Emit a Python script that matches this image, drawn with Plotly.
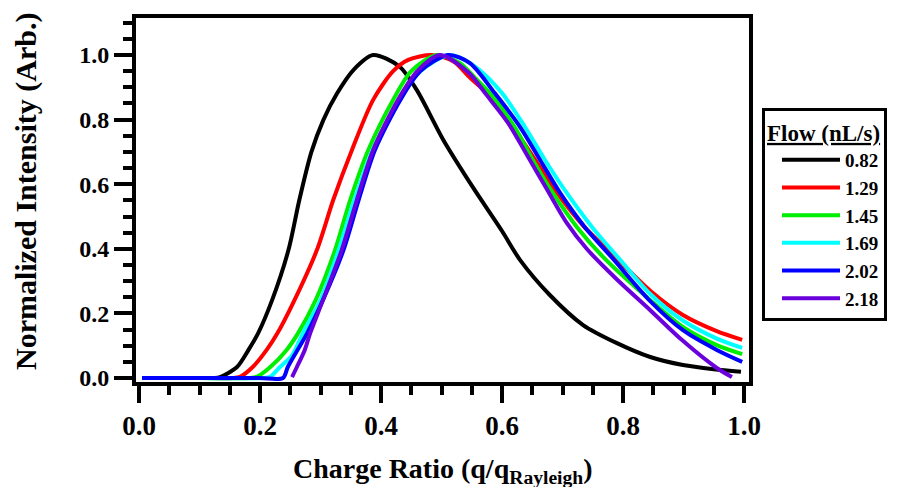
import plotly.graph_objects as go

# Flow rates (nL/s) and series data
flows = ["0.82", "1.29", "1.45", "1.69", "2.02", "2.18"]
colors = ["#000000", "#FF0000", "#00EE00", "#00FFFF", "#0000FF", "#6A00DC"]

x_082 = [0.005, 0.10, 0.125, 0.134, 0.162, 0.181, 0.197, 0.220, 0.247, 0.265, 0.285, 0.305, 0.327, 0.355, 0.387,
         0.43, 0.459, 0.503, 0.552, 0.60, 0.63, 0.679, 0.734, 0.790, 0.845, 0.899, 0.95, 0.995]
y_082 = [0, 0, 0, 0.003, 0.034, 0.087, 0.139, 0.241, 0.396, 0.551, 0.70, 0.80, 0.88, 0.955, 1.0,
         0.965, 0.892, 0.737, 0.59, 0.455, 0.365, 0.257, 0.164, 0.108, 0.065, 0.04, 0.027, 0.019]

x_129 = [0.005, 0.10, 0.155, 0.167, 0.188, 0.211, 0.229, 0.257, 0.294, 0.321, 0.352, 0.387, 0.42, 0.445,
         0.484, 0.52, 0.547, 0.575, 0.618, 0.655, 0.691, 0.734, 0.787, 0.845, 0.899, 0.955, 0.997]
y_129 = [0, 0, 0, 0.004, 0.034, 0.087, 0.139, 0.241, 0.396, 0.551, 0.706, 0.861, 0.95, 0.985,
         1.0, 0.98, 0.93, 0.882, 0.777, 0.675, 0.573, 0.472, 0.375, 0.27, 0.195, 0.145, 0.118]

x_145 = [0.005, 0.10, 0.183, 0.195, 0.217, 0.244, 0.263, 0.292, 0.324, 0.349, 0.379, 0.42, 0.45, 0.492,
         0.53, 0.555, 0.58, 0.621, 0.651, 0.684, 0.724, 0.767, 0.845, 0.899, 0.955, 0.997]
y_145 = [0, 0, 0, 0.004, 0.034, 0.087, 0.139, 0.241, 0.396, 0.551, 0.706, 0.861, 0.95, 1.0,
         0.975, 0.93, 0.882, 0.777, 0.675, 0.573, 0.467, 0.375, 0.241, 0.158, 0.102, 0.074]

x_169 = [0.005, 0.10, 0.205, 0.217, 0.233, 0.253, 0.271, 0.300, 0.33, 0.356, 0.386, 0.43, 0.465, 0.514,
         0.555, 0.60, 0.638, 0.671, 0.707, 0.749, 0.798, 0.845, 0.899, 0.955, 0.997]
y_169 = [0, 0, 0, 0.004, 0.034, 0.07, 0.139, 0.241, 0.396, 0.551, 0.706, 0.861, 0.95, 1.0,
         0.965, 0.882, 0.777, 0.675, 0.573, 0.467, 0.36, 0.26, 0.178, 0.122, 0.093]

x_202 = [0.005, 0.10, 0.20, 0.238, 0.246, 0.278, 0.304, 0.338, 0.363, 0.39, 0.432, 0.465, 0.511, 0.547,
         0.588, 0.630, 0.663, 0.696, 0.737, 0.783, 0.845, 0.899, 0.955, 0.997]
y_202 = [0, 0, 0, 0, 0.034, 0.139, 0.241, 0.396, 0.551, 0.706, 0.861, 0.95, 1.0, 0.975,
         0.882, 0.777, 0.675, 0.573, 0.467, 0.37, 0.238, 0.148, 0.087, 0.05]

x_218 = [0.253, 0.261, 0.274, 0.283, 0.304, 0.335, 0.360, 0.387, 0.428, 0.46, 0.497, 0.545,
         0.575, 0.61, 0.643, 0.674, 0.707, 0.740, 0.790, 0.845, 0.899, 0.955, 0.98]
y_218 = [0.003, 0.034, 0.087, 0.139, 0.241, 0.396, 0.551, 0.706, 0.861, 0.95, 1.0, 0.945,
         0.875, 0.79, 0.685, 0.585, 0.48, 0.40, 0.305, 0.21, 0.115, 0.031, 0.003]

xs = [x_082, x_129, x_145, x_169, x_202, x_218]
ys = [y_082, y_129, y_145, y_169, y_202, y_218]

x_ticks = [0.0, 0.2, 0.4, 0.6, 0.8, 1.0]
y_ticks = [0.0, 0.2, 0.4, 0.6, 0.8, 1.0]

x_title = "Charge Ratio (q/q<sub>Rayleigh</sub>)"
y_title = "Normalized Intensity (Arb.)"
legend_title = "Flow (nL/s)"

FONT = "Liberation Serif"

fig = go.Figure()
for name, c, xv, yv in zip(flows, colors, xs, ys):
    fig.add_trace(go.Scatter(
        x=xv, y=yv, mode="lines", name=name,
        line=dict(color=c, width=4, shape="spline", smoothing=0.8),
    ))

fig.update_layout(
    width=898, height=487,
    margin=dict(l=136, r=149, t=18, b=105),
    paper_bgcolor="white", plot_bgcolor="white",
    font=dict(family=FONT, color="black", size=24, weight="bold"),
    showlegend=True,
    legend=dict(
        title=dict(text=f"<u>{legend_title}</u>", font=dict(family=FONT, size=23, weight="bold"), side="top"),
        font=dict(family=FONT, size=19, weight="bold"),
        xref="container", yref="container",
        x=762 / 898, xanchor="left", y=1 - 108 / 487, yanchor="top",
        bgcolor="white", bordercolor="black", borderwidth=3,
        itemwidth=58, indentation=12, tracegroupgap=0,
    ),
    annotations=[
        dict(text=x_title, xref="paper", yref="paper", x=0.5008, y=-0.19,
             xanchor="center", yanchor="top", showarrow=False,
             font=dict(family=FONT, size=28, weight="bold")),
        dict(text=y_title, xref="paper", yref="paper", x=-0.1794, y=0.522,
             xanchor="center", yanchor="middle", textangle=-90, showarrow=False,
             font=dict(family=FONT, size=30, weight="bold")),
    ],
)

fig.update_xaxes(
    range=[-0.00496, 1.00826], tickvals=x_ticks, ticktext=[f"{v:.1f}" for v in x_ticks],
    automargin=False, showgrid=False, zeroline=False,
    showline=True, linecolor="black", linewidth=4, mirror=True,
    ticks="outside", ticklen=17, tickwidth=4, tickcolor="black",
    tickfont=dict(family=FONT, size=27, weight="bold"),
    minor=dict(ticks="outside", ticklen=9, tickwidth=4, tickcolor="black", dtick=0.05, tick0=0, showgrid=False),
)
fig.update_yaxes(
    range=[-0.01238, 1.11455], tickvals=y_ticks, ticktext=[f"{v:.1f}" for v in y_ticks],
    automargin=False, showgrid=False, zeroline=False,
    showline=True, linecolor="black", linewidth=4, mirror=True,
    ticks="outside", ticklen=18, tickwidth=4, tickcolor="black",
    tickfont=dict(family=FONT, size=24, weight="bold"),
    minor=dict(ticks="outside", ticklen=9, tickwidth=4, tickcolor="black", dtick=0.05, tick0=0, showgrid=False),
)

fig.write_html("out.html", config={"displayModeBar": False},
               post_script="document.body.style.margin='0px';")
